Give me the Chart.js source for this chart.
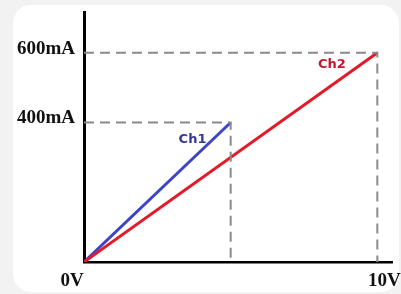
<!DOCTYPE html>
<html>
<head>
<meta charset="utf-8">
<script src="https://cdn.jsdelivr.net/npm/chart.js@4.4.0/dist/chart.umd.min.js"></script>
<style>
  html, body { margin: 0; padding: 0; background: #f2f2f2; }
  #panel { position: absolute; left: 13px; top: 5px; width: 386px; height: 287px; background: #fff; border-radius: 18px; }
  #wrap { position: absolute; left: 0; top: 0; width: 401px; height: 294px; }
</style>
</head>
<body>
<div id="panel"></div>
<div id="wrap"><canvas id="ivChart" width="401" height="294"></canvas></div>
<script>
// voltage (V) -> current (mA)
const ch1Volts = [0, 5];
const ch1Amps = [0, 400];
const ch2Volts = [0, 10];
const ch2Amps = [0, 600];

// dashed guide lines
const guide1Volts = [0, 5, 5];
const guide1Amps = [400, 400, 0];
const guide2Volts = [0, 10, 10];
const guide2Amps = [600, 600, 0];

const xTicks = [0, 10];
const xTickLabels = ['0V     ', '   10V'];
const yTicks = [400, 600];
const yTickLabels = ['400mA', '600mA'];

function pts(xs, ys) {
  return xs.map((x, i) => ({ x: x, y: ys[i] }));
}

// draws the Ch1 / Ch2 names next to the lines
const lineNames = {
  id: 'lineNames',
  afterDatasetsDraw(chart) {
    const ctx = chart.ctx;
    const xs = chart.scales.x, ys = chart.scales.y;
    ctx.save();
    ctx.font = 'bold 13px "DejaVu Sans"';
    ctx.textAlign = 'center';
    ctx.textBaseline = 'middle';
    ctx.fillStyle = '#34379a';
    ctx.fillText('Ch1', xs.getPixelForValue(3.7), ys.getPixelForValue(350));
    ctx.fillStyle = '#c4162f';
    ctx.fillText('Ch2', xs.getPixelForValue(8.45), ys.getPixelForValue(567));
    ctx.restore();
  }
};

document.addEventListener('DOMContentLoaded', function () {
  const ctx = document.getElementById('ivChart').getContext('2d');
  const dashed = { borderColor: '#8a8a8a', borderWidth: 2, borderDash: [10, 6], pointRadius: 0, showLine: true, fill: false };
  new Chart(ctx, {
    type: 'scatter',
    data: {
      datasets: [
        Object.assign({ label: 'g2', data: pts(guide2Volts, guide2Amps) }, dashed),
        Object.assign({ label: 'g1', data: pts(guide1Volts, guide1Amps) }, dashed),
        {
          label: 'Ch2',
          data: pts(ch2Volts, ch2Amps),
          showLine: true,
          borderColor: '#e21b2a',
          borderWidth: 3,
          pointRadius: 0
        },
        {
          label: 'Ch1',
          data: pts(ch1Volts, ch1Amps),
          showLine: true,
          borderColor: '#3c44c8',
          borderWidth: 3,
          pointRadius: 0
        }
      ]
    },
    options: {
      responsive: false,
      animation: false,
      layout: { padding: { top: 12, right: 9, left: 0, bottom: 0 } },
      plugins: { legend: { display: false }, tooltip: { enabled: false } },
      scales: {
        x: {
          type: 'linear',
          min: 0,
          max: 10.5,
          afterBuildTicks: s => { s.ticks = xTicks.map(v => ({ value: v })); },
          afterFit: s => { s.height = 32; s.paddingLeft = 0; s.paddingRight = 0; },
          grid: { display: false, drawTicks: false },
          border: { display: true, color: '#000', width: 2.5 },
          ticks: {
            padding: 8,
            color: '#111',
            font: { family: '"Liberation Serif"', weight: 'bold', size: 19 },
            callback: v => xTickLabels[xTicks.indexOf(v)] || ''
          }
        },
        y: {
          type: 'linear',
          min: 0,
          max: 717,
          afterBuildTicks: s => { s.ticks = yTicks.map(v => ({ value: v })); },
          afterFit: s => { s.width = 84; s.paddingTop = 0; s.paddingBottom = 0; },
          grid: { display: false, drawTicks: false },
          border: { display: true, color: '#000', width: 3 },
          ticks: {
            padding: 9,
            labelOffset: -4,
            color: '#111',
            font: { family: '"Liberation Serif"', weight: 'bold', size: 19 },
            callback: v => yTickLabels[yTicks.indexOf(v)] || ''
          }
        }
      }
    },
    plugins: [lineNames]
  });
});
</script>
</body>
</html>
